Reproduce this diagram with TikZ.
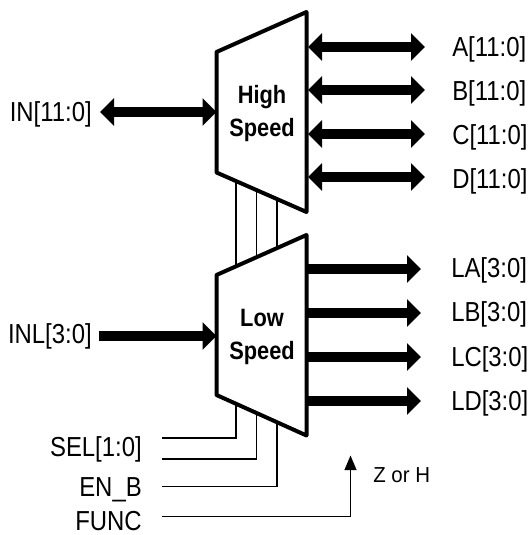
\documentclass[tikz,border=0pt]{standalone}
\usepackage{fontspec}
\setmainfont[FakeStretch=0.87]{Liberation Sans}
\newfontfamily\zfont[FakeStretch=0.94]{Liberation Sans}
\usetikzlibrary{arrows.meta}
\tikzset{
  x=0.75pt,y=-0.75pt,
  box/.style={line width=3pt,line join=round,fill=white},
  bus/.style={line width=7.5pt,-{Triangle[length=10.5pt,width=20pt,sep=0pt]}},
  bibus/.style={line width=7.5pt,{Triangle[length=10.5pt,width=20pt]}-{Triangle[length=10.5pt,width=20pt]}},
  sig/.style={line width=1.1pt},
  lbl/.style={inner sep=0pt,font=\fontsize{20.6pt}{24pt}\selectfont},
  title/.style={inner sep=0pt,anchor=base,font=\fontsize{18.8pt}{24pt}\selectfont\bfseries}
}
\begin{document}
\begin{tikzpicture}
\useasboundingbox (0,0) rectangle (530,535);
% control-line end points
\coordinate (s1) at (236,438); \coordinate (s2) at (256.5,459); \coordinate (s3) at (277,486.5);
\coordinate (t1) at (236,172); \coordinate (t2) at (256.5,180); \coordinate (t3) at (277,198);
\coordinate (u1) at (236,270); \coordinate (u2) at (256.5,262); \coordinate (u3) at (277,250);
\coordinate (v1) at (236,395); \coordinate (v2) at (256.5,405); \coordinate (v3) at (277,415);
\coordinate (hin) at (216.5,112); \coordinate (lin) at (216.5,336);
\coordinate (ha) at (308,47); \coordinate (hb) at (308,90); \coordinate (hc) at (308,134); \coordinate (hd) at (308,177);
\coordinate (la) at (306,269); \coordinate (lb) at (306,313); \coordinate (lc) at (306,357); \coordinate (ld) at (306,401);
\coordinate (c1) at (162,438); \coordinate (c2) at (162,459); \coordinate (c3) at (162,486.5); \coordinate (c4) at (162,516.5);
% lines between blocks and control signals, behind the blocks
\draw[sig] (t1) -- (u1); \draw[sig] (t2) -- (u2); \draw[sig] (t3) -- (u3);
\draw[sig] (c1) -- (s1) -- (v1);
\draw[sig] (c2) -- (s2) -- (v2);
\draw[sig] (c3) -- (s3) -- (v3);
% blocks
\draw[box] (216.5,52) -- (306.5,12) -- (306.5,212) -- (216.5,172.5) -- cycle;
\draw[box] (216.5,275) -- (306.5,235) -- (306.5,435.5) -- (216.5,395) -- cycle;
\node[title] (high1) at (262,103.5) {High};
\node[title] (high2) at (262,136.5) {Speed};
\node[title] (low1) at (262,326) {Low};
\node[title] (low2) at (262,359) {Speed};
% left labels
\node[lbl,anchor=base east] (inh) at (92,121) {IN[11:0]};
\node[lbl,anchor=base east] (inl) at (92,343) {INL[3:0]};
\coordinate (inhe) at (100,112); \coordinate (inle) at (99,336);
\draw[bibus] (inhe) -- (hin);
\draw[bus] (inle) -- (lin);
% right labels
\node[lbl,anchor=base west] (a) at (452,57) {A[11:0]};
\node[lbl,anchor=base west] (b) at (452,100) {B[11:0]};
\node[lbl,anchor=base west] (c) at (452,144) {C[11:0]};
\node[lbl,anchor=base west] (d) at (452,188) {D[11:0]};
\node[lbl,anchor=base west] (e) at (451,277) {LA[3:0]};
\node[lbl,anchor=base west] (f) at (451,321) {LB[3:0]};
\node[lbl,anchor=base west] (g) at (451,366) {LC[3:0]};
\node[lbl,anchor=base west] (h) at (451,410) {LD[3:0]};
\coordinate (ae) at (425,47); \coordinate (be) at (425,90); \coordinate (ce) at (425,134); \coordinate (de) at (425,177);
\coordinate (ee) at (421,269); \coordinate (fe) at (421,313); \coordinate (ge) at (421,357); \coordinate (he) at (421,401);
\draw[bibus] (ha) -- (ae); \draw[bibus] (hb) -- (be); \draw[bibus] (hc) -- (ce); \draw[bibus] (hd) -- (de);
\draw[bus] (la) -- (ee); \draw[bus] (lb) -- (fe); \draw[bus] (lc) -- (ge); \draw[bus] (ld) -- (he);
% control signals
\node[lbl,anchor=base east] (sel) at (142,456) {SEL[1:0]};
\node[lbl,anchor=base east] (en) at (142,496) {EN\_B};
\node[lbl,anchor=base east] (func) at (142,530) {FUNC};
\coordinate (ztip) at (350.5,455.5);
\draw[sig,-{Triangle[length=11pt,width=9pt,sep=0pt]}] (c4) -| (ztip);
\node[lbl,font=\fontsize{16.3pt}{18pt}\selectfont\zfont,anchor=base west] (z) at (373,482.7) {Z or H};
\end{tikzpicture}
\end{document}
